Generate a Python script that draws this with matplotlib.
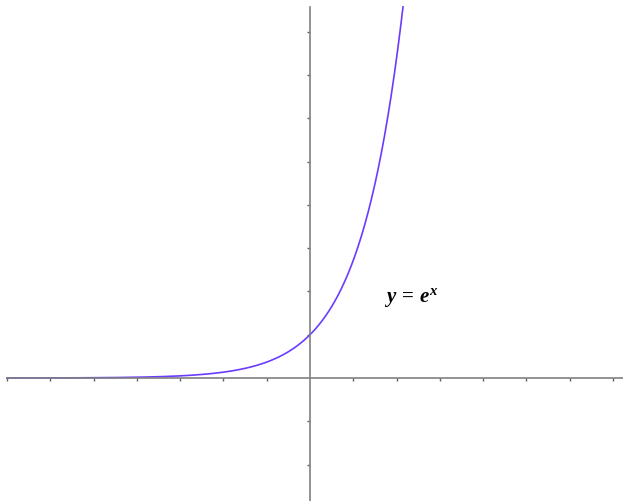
import numpy as np
import matplotlib
matplotlib.use("Agg")
import matplotlib.pyplot as plt

# axis extents and tick positions (data units)
x_ticks = [-7, -6, -5, -4, -3, -2, -1, 1, 2, 3, 4, 5, 6, 7]
y_ticks = [-2, -1, 1, 2, 3, 4, 5, 6, 7, 8]
x_lim = (-7.16, 7.23)
y_lim = (-2.84, 8.73)
y_top = 8.57

label_text = r"$y\,=\,e^x$"
label_pos = (1.72, 1.85)

# bold italic serif for the math label
plt.rcParams["mathtext.fontset"] = "custom"
plt.rcParams["mathtext.it"] = "Liberation Serif:italic:bold"
plt.rcParams["mathtext.rm"] = "Liberation Serif:bold"

fig = plt.figure(figsize=(6.23, 5.01), dpi=100)
ax = fig.add_axes([0, 0, 1, 1])

x = np.linspace(-7, np.log(y_top), 600)
ax.plot(x, np.exp(x), color="#6a3cff", linewidth=1.2, zorder=2)

for side in ("top", "right"):
    ax.spines[side].set_visible(False)
ax.spines["left"].set_position(("data", 0))
ax.spines["bottom"].set_position(("data", 0))
ax.spines["left"].set_bounds(y_lim[0], y_top)
ax.spines["bottom"].set_bounds(-7, x_lim[1])
for side in ("left", "bottom"):
    ax.spines[side].set_color("#808080")
    ax.spines[side].set_linewidth(1.2)

ax.set_xlim(*x_lim)
ax.set_ylim(*y_lim)
ax.set_xticks(x_ticks)
ax.set_yticks(y_ticks)
ax.tick_params(direction="out", length=2.5, width=1, color="#606060",
               labelbottom=False, labelleft=False)

ax.text(*label_pos, label_text, fontsize=15, ha="left", va="center")

fig.savefig("out.png", dpi=100)
